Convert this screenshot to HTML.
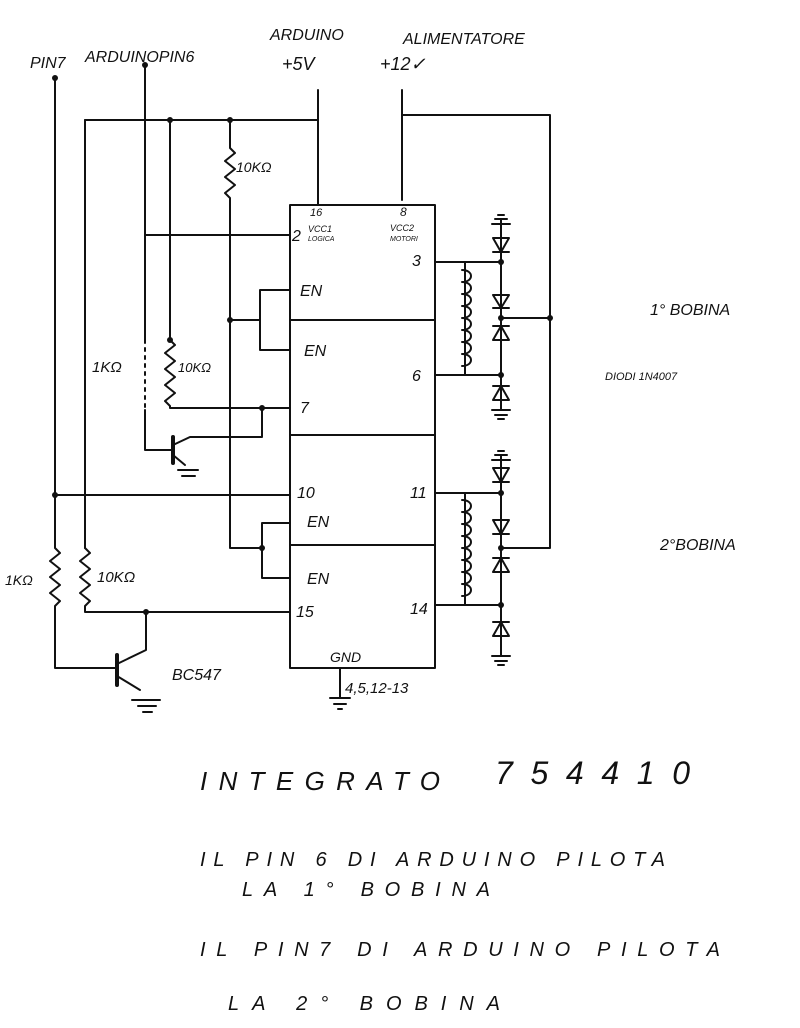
<!DOCTYPE html>
<html><head><meta charset="utf-8"><style>
html,body{margin:0;padding:0;background:#fff;width:800px;height:1028px;overflow:hidden}
svg{display:block}
text{font-family:"Liberation Sans",sans-serif;font-style:italic;fill:#111}
</style></head><body>
<svg width="800" height="1028" viewBox="0 0 800 1028" xmlns="http://www.w3.org/2000/svg">
<g stroke="#111" stroke-width="2" fill="none" stroke-linecap="round" stroke-linejoin="round">
<path d="M55 78 V540"/>
<path d="M145 65 V235 H290"/>
<path d="M85 120 H318"/>
<path d="M318 90 V205"/>
<path d="M402 90 V200"/>
<path d="M402 115 H550 V548 H501"/>
<path d="M550 318 H501"/>
<path d="M290 205 H435 V668 H290 Z"/>
<path d="M290 320 H435 M290 435 H435 M290 545 H435"/>
<path d="M85 120 V548"/>
<path d="M85 548 l5 5 l-10 8 l10 8 l-10 8 l10 8 l-10 8 l10 8 l-5 5 V612 H290"/>
<path d="M55 540 V548 l5 5 l-10 8 l10 8 l-10 8 l10 8 l-10 8 l10 8 l-5 5 V668 H117"/>
<path d="M55 495 H290"/>
<path d="M117 655 V685" stroke-width="4"/>
<path d="M117 664 L146 650 V612"/>
<path d="M117 676 L140 690"/>
<path d="M132 700 H160 M138 706 H156 M143 712 H152"/>
<path d="M145 235 V340" />
<path d="M145 340 V410" stroke-dasharray="3 5"/>
<path d="M145 410 V450 H173"/>
<path d="M173 437 V463" stroke-width="4"/>
<path d="M173 445 L190 437 H262 V408"/>
<path d="M173 455 L185 465"/>
<path d="M178 470 H198 M182 476 H195"/>
<path d="M170 120 V340 l5 5 l-10 8 l10 8 l-10 8 l10 8 l-10 8 l10 8 l-10 8 l5 5 V408 H290"/>
<path d="M230 120 V148 l5 5 l-10 8 l10 8 l-10 8 l10 8 l-10 8 l5 5 V548 H262"/>
<path d="M230 320 H260 M260 290 V350 M260 290 H290 M260 350 H290"/>
<path d="M262 523 V578 M262 523 H290 M262 578 H290"/>
<path d="M435 262 H501 M435 375 H501 M435 493 H501 M435 605 H501"/>
<path d="M465 262 V375 M465 493 V605"/>
<path d="M462 270 c12 0 12 12 0 12 c12 0 12 12 0 12 c12 0 12 12 0 12 c12 0 12 12 0 12 c12 0 12 12 0 12 c12 0 12 12 0 12 c12 0 12 12 0 12 c12 0 12 12 0 12"/>
<path d="M462 500 c12 0 12 12 0 12 c12 0 12 12 0 12 c12 0 12 12 0 12 c12 0 12 12 0 12 c12 0 12 12 0 12 c12 0 12 12 0 12 c12 0 12 12 0 12 c12 0 12 12 0 12"/>
<path d="M501 220 V410 M501 455 V655"/>
<path d="M493 238 H509 L501 252 Z M493 252 H509"/>
<path d="M493 295 H509 L501 308 Z M493 308 H509"/>
<path d="M493 340 H509 L501 326 Z M493 326 H509"/>
<path d="M493 400 H509 L501 386 Z M493 386 H509"/>
<path d="M493 468 H509 L501 482 Z M493 482 H509"/>
<path d="M493 520 H509 L501 534 Z M493 534 H509"/>
<path d="M493 572 H509 L501 558 Z M493 558 H509"/>
<path d="M493 636 H509 L501 622 Z M493 622 H509"/>
<path d="M492 224 H510 M495 219 H507 M498 215 H504"/>
<path d="M492 410 H510 M495 415 H507 M498 419 H504"/>
<path d="M492 460 H510 M495 455 H507 M498 451 H504"/>
<path d="M492 656 H510 M495 661 H507 M498 665 H504"/>
<path d="M340 668 V698 M330 698 H350 M334 704 H346 M338 709 H342"/>
</g>
<g fill="#111">
<circle cx="55" cy="78" r="3"/><circle cx="145" cy="65" r="3"/>
<circle cx="170" cy="120" r="3"/><circle cx="230" cy="120" r="3"/>
<circle cx="230" cy="320" r="3"/><circle cx="262" cy="408" r="3"/>
<circle cx="170" cy="340" r="3"/><circle cx="55" cy="495" r="3"/>
<circle cx="146" cy="612" r="3"/><circle cx="262" cy="548" r="3"/>
<circle cx="501" cy="262" r="3"/><circle cx="501" cy="318" r="3"/><circle cx="501" cy="375" r="3"/>
<circle cx="550" cy="318" r="3"/>
<circle cx="501" cy="493" r="3"/><circle cx="501" cy="548" r="3"/><circle cx="501" cy="605" r="3"/>
</g>
<g font-size="16">
<text x="30" y="68">PIN7</text>
<text x="85" y="62">ARDUINOPIN6</text>
<text x="270" y="40">ARDUINO</text>
<text x="282" y="70" font-size="18">+5V</text>
<text x="403" y="44">ALIMENTATORE</text>
<text x="380" y="70" font-size="18">+12✓</text>
<text x="236" y="172" font-size="14">10KΩ</text>
<text x="92" y="372" font-size="15">1KΩ</text>
<text x="178" y="372" font-size="13">10KΩ</text>
<text x="5" y="585" font-size="14">1KΩ</text>
<text x="97" y="582" font-size="15">10KΩ</text>
<text x="172" y="680">BC547</text>
<text x="310" y="216" font-size="11">16</text>
<text x="308" y="232" font-size="9">VCC1</text>
<text x="308" y="241" font-size="7">LOGICA</text>
<text x="400" y="216" font-size="12">8</text>
<text x="390" y="231" font-size="9">VCC2</text>
<text x="390" y="241" font-size="7">MOTORI</text>
<text x="292" y="241">2</text>
<text x="300" y="296">EN</text>
<text x="304" y="356">EN</text>
<text x="300" y="413">7</text>
<text x="297" y="498">10</text>
<text x="307" y="527">EN</text>
<text x="307" y="584">EN</text>
<text x="296" y="617">15</text>
<text x="412" y="266">3</text>
<text x="412" y="381">6</text>
<text x="410" y="498">11</text>
<text x="410" y="614">14</text>
<text x="330" y="662" font-size="14">GND</text>
<text x="345" y="693" font-size="15">4,5,12-13</text>
<text x="650" y="315" font-size="16">1° BOBINA</text>
<text x="605" y="380" font-size="11">DIODI 1N4007</text>
<text x="660" y="550" font-size="16">2°BOBINA</text>
<text x="200" y="790" font-size="26" textLength="240" lengthAdjust="spacing">INTEGRATO</text>
<text x="495" y="784" font-size="32" textLength="195" lengthAdjust="spacing">754410</text>
<text x="200" y="866" font-size="20" textLength="465" lengthAdjust="spacing">IL PIN 6 DI ARDUINO PILOTA</text>
<text x="242" y="896" font-size="20" textLength="248" lengthAdjust="spacing">LA 1° BOBINA</text>
<text x="200" y="956" font-size="20" textLength="520" lengthAdjust="spacing">IL PIN7 DI ARDUINO PILOTA</text>
<text x="228" y="1010" font-size="20" textLength="272" lengthAdjust="spacing">LA 2° BOBINA</text>
</g>
</svg>
</body></html>
